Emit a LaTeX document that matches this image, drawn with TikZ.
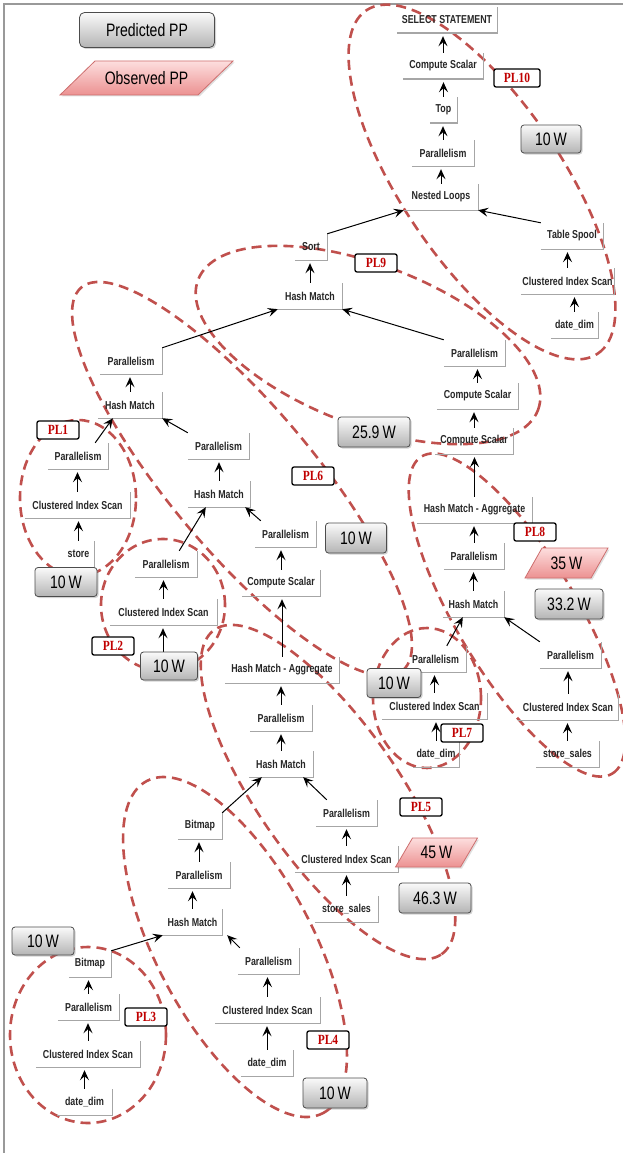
\documentclass[tikz,border=0pt]{standalone}
\usepackage{fontspec}
\setmainfont{Liberation Sans}
\newfontfamily\opfont[FakeStretch=0.77]{Liberation Sans}
\newfontfamily\bigfont[FakeStretch=0.78]{Liberation Sans}
\newfontfamily\plfont[FakeStretch=0.82]{Liberation Serif}
\usetikzlibrary{arrows.meta,shadows,calc}
\definecolor{plred}{RGB}{192,80,77}
\definecolor{pltext}{RGB}{192,0,0}
\definecolor{obsborder}{RGB}{205,110,110}
\definecolor{obstop}{RGB}{253,222,222}
\definecolor{obsbot}{RGB}{236,145,145}
\definecolor{gtop}{RGB}{250,250,250}
\definecolor{gbot}{RGB}{180,180,180}
\tikzset{
  op/.style={inner sep=0pt, minimum height=26pt, text=black!85,
    font=\opfont\bfseries\fontsize{11.5}{13}\selectfont},
  opl/.style={draw=gray!70, line width=1.4pt},
  arr/.style={-{Stealth[length=10pt,width=9pt,inset=4pt]}, line width=1pt, black, shorten >=3pt},
  darr/.style={-{Stealth[length=10pt,width=9pt,inset=4pt]}, line width=1pt, black},
  plloop/.style={draw=plred, line width=2.6pt, dash pattern=on 10pt off 6pt},
  pw/.style={rounded corners=3pt, draw=black!70, line width=0.8pt, top color=gtop, bottom color=gbot,
    font=\bigfont\fontsize{18}{20}\selectfont, inner sep=0pt,
    drop shadow={opacity=0.35,shadow xshift=1.5pt,shadow yshift=-1.5pt}},
  obsshape/.style={draw=obsborder, line width=0.8pt, top color=obstop, bottom color=obsbot,
    drop shadow={opacity=0.25,shadow xshift=1.5pt,shadow yshift=-1.5pt}},
  bigtxt/.style={inner sep=0pt, font=\bigfont\fontsize{18}{20}\selectfont},
  pl/.style={draw=black, line width=1.3pt, rounded corners=2pt, fill=white, minimum width=42pt,
    minimum height=18pt, inner sep=0pt, text=pltext, font=\plfont\bfseries\fontsize{14}{16}\selectfont}
}
% operator node: name, left, right, bottom, text
\newcommand\opn[5]{%
  \node[op, minimum width={#3pt-#2pt}] (#1) at ({(#2+#3)/2},{#4-13}) {#5};
  \draw[opl] (#1.south west) -- (#1.south east) -- (#1.north east);}
% vertical arrow child -> parent
\newcommand\vup[2]{\draw[arr] (#1.north) -- (#1.north |- #2.south);}
% observed box: name, cx, cy, halfwidth, halfheight, slant, text
\newcommand\obsbox[7]{%
  \coordinate (#1c) at (#2,#3);
  \shade[obsshape] ($(#1c)+(-#4+#6,-#5)$) -- ($(#1c)+(#4+#6,-#5)$) -- ($(#1c)+(#4-#6,#5)$) -- ($(#1c)+(-#4-#6,#5)$) -- cycle;
  \node[bigtxt] (#1) at (#1c) {#7};}
\begin{document}
\begin{tikzpicture}[x=1pt,y=-1pt]
\useasboundingbox (0,0) rectangle (623,1153);
\draw[gray!80, line width=1.5pt] (4,1153) -- (4,4) -- (623,4);

% ---- dashed loops ----
\draw[plloop, rotate around={-56:(482,182)}] (482,182) ellipse (207pt and 80pt);
\draw[plloop, rotate around={-21:(368,345)}] (368,345) ellipse (182pt and 80pt);
\draw[plloop, rotate around={-50:(242,479)}] (242,479) ellipse (250pt and 72pt);
\draw[plloop] (78,498) ellipse (58pt and 78pt);
\draw[plloop] (163,605) ellipse (62pt and 66pt);
\draw[plloop, rotate around={-59:(517,615)}] (517,615) ellipse (185pt and 60pt);
\draw[plloop] (427,698) ellipse (54pt and 70pt);
\draw[plloop, rotate around={-55:(328,792)}] (328,792) ellipse (198pt and 70pt);
\draw[plloop, rotate around={-62:(235,947)}] (235,947) ellipse (188pt and 78pt);
\draw[plloop] (88,1035) ellipse (78pt and 88pt);

% ---- legend ----
\node[pw, minimum width=135pt, minimum height=35pt, rounded corners=5pt] (pred) at (147,30) {Predicted PP};
\obsbox{obs}{146.5}{78}{69}{17}{17.5}{Observed PP}

% ---- operators ----
\opn{sel}{397}{497}{33}{SELECT STATEMENT}
\opn{csa}{403}{483}{79}{Compute Scalar}
\opn{topn}{430}{457}{123}{Top}
\opn{parj}{412}{474}{166}{Parallelism}
\opn{nl}{404}{478}{210}{Nested Loops}
\opn{ts}{541}{603}{249}{Table Spool}
\opn{cisj}{521}{614}{294}{Clustered Index Scan}
\opn{ddj}{551}{598}{338}{date\_dim}

\opn{sort}{295}{327}{260}{Sort}
\opn{hmi}{278}{342}{309}{Hash Match}
\opn{pari}{444}{505}{366}{Parallelism}
\opn{csia}{437}{518}{409}{Compute Scalar}
\opn{csib}{435}{513}{454}{Compute Scalar}

\opn{parfa}{100}{162}{374}{Parallelism}
\opn{hmfa}{98}{162}{418}{Hash Match}
\opn{parfb}{188}{249}{459}{Parallelism}
\opn{hmfb}{188}{250}{507}{Hash Match}
\opn{parfc}{255}{316}{547}{Parallelism}
\opn{csf}{242}{320}{596}{Compute Scalar}

\opn{para}{48}{108}{469}{Parallelism}
\opn{cisa}{25}{130}{518}{Clustered Index Scan}
\opn{store}{63}{94}{567}{store}

\opn{parb}{135}{197}{577}{Parallelism}
\opn{cisb}{110}{217}{625}{Clustered Index Scan}
\coordinate (tblb) at (163,652);

\opn{hmah}{417}{532}{523}{Hash Match - Aggregate}
\opn{parha}{444}{504}{569}{Parallelism}
\opn{hmh}{443}{504}{617}{Hash Match}
\opn{parhb}{540}{601}{668}{Parallelism}
\opn{cish}{518}{618}{720}{Clustered Index Scan}
\opn{ssh}{536}{599}{767}{store\_sales}

\opn{parg}{405}{466}{672}{Parallelism}
\opn{cisg}{382}{487}{719}{Clustered Index Scan}
\opn{ddg}{413}{459}{767}{date\_dim}

\opn{hmae}{225}{339}{683}{Hash Match - Aggregate}
\opn{parea}{250}{312}{731}{Parallelism}
\opn{hme}{249}{313}{777}{Hash Match}
\opn{pareb}{316}{377}{826}{Parallelism}
\opn{cise}{295}{398}{872}{Clustered Index Scan}
\opn{sse}{315}{378}{922}{store\_sales}

\opn{bmd}{178}{222}{839}{Bitmap}
\opn{parda}{168}{230}{888}{Parallelism}
\opn{hmd}{163}{222}{935}{Hash Match}
\opn{pardb}{238}{299}{974}{Parallelism}
\opn{cisd}{215}{320}{1023}{Clustered Index Scan}
\opn{ddd}{241}{293}{1076}{date\_dim}

\opn{bmc}{69}{111}{977}{Bitmap}
\opn{parc}{58}{119}{1020}{Parallelism}
\opn{cisc}{36}{140}{1067}{Clustered Index Scan}
\opn{ddc}{57}{112}{1115}{date\_dim}

% ---- arrows ----
\vup{csa}{sel} \vup{topn}{csa} \vup{parj}{topn} \vup{nl}{parj}
\draw[darr] (sort.north east) -- (nl.south west);
\draw[darr] (ts.north west) -- (nl.south east);
\vup{cisj}{ts} \vup{ddj}{cisj}

\vup{hmi}{sort}
\draw[darr] (parfa.north east) -- (hmi.south west);
\draw[darr] (pari.north west) -- (hmi.south east);
\vup{csia}{pari} \vup{csib}{csia} \vup{hmah}{csib}

\vup{hmfa}{parfa}
\draw[darr] ($(para.north east)+(-13,0)$) -- ($(hmfa.south west)+(15,0)$);
\draw[darr] (parfb.north west) -- (hmfa.south east);
\vup{hmfb}{parfb}
\draw[darr] ($(parb.north east)+(-18,0)$) -- ($(hmfb.south west)+(18,0)$);
\draw[darr] ($(parfc.north west)+(6,0)$) -- ($(hmfb.south east)+(-5,0)$);
\vup{csf}{parfc} \vup{hmae}{csf}

\vup{cisa}{para} \vup{store}{cisa}
\vup{cisb}{parb}
\draw[arr] (tblb) -- (tblb |- cisb.south);

\vup{parha}{hmah} \vup{hmh}{parha}
\draw[darr] ($(parg.north west)+(42,0)$) -- ($(hmh.south west)+(20,0)$);
\draw[darr] (parhb.north west) -- (hmh.south east);
\vup{cish}{parhb} \vup{ssh}{cish}
\vup{cisg}{parg} \vup{ddg}{cisg}

\vup{parea}{hmae} \vup{hme}{parea}
\draw[darr] (bmd.north east) -- ($(hme.south west)+(13,0)$);
\draw[darr] ($(pareb.north west)+(11,0)$) -- ($(hme.south east)+(-10,0)$);
\vup{cise}{pareb} \vup{sse}{cise}

\vup{parda}{bmd} \vup{hmd}{parda}
\draw[darr] (bmc.north east) -- (hmd.south west);
\draw[darr] ($(pardb.north west)+(2,0)$) -- ($(hmd.south east)+(5,0)$);
\vup{cisd}{pardb} \vup{ddd}{cisd}
\vup{parc}{bmc} \vup{cisc}{parc} \vup{ddc}{cisc}

% ---- power boxes ----
\node[pw, minimum width=60pt, minimum height=28pt] (pwj) at (551,139) {10\,W};
\node[pw, minimum width=72pt, minimum height=30pt] (pwi) at (374,432) {25.9\,W};
\node[pw, minimum width=61pt, minimum height=30pt] (pwf) at (356,538) {10\,W};
\obsbox{obh}{566.5}{563}{33}{15}{8.5}{35\,W}
\node[pw, minimum width=68pt, minimum height=30pt] (pwh) at (569,604) {33.2\,W};
\node[pw, minimum width=62pt, minimum height=29pt] (pwa) at (66,582) {10\,W};
\node[pw, minimum width=57pt, minimum height=28pt] (pwb) at (169,666) {10\,W};
\node[pw, minimum width=54pt, minimum height=29pt] (pwg) at (394,683) {10\,W};
\obsbox{obe}{436.5}{852.5}{32.5}{14.5}{8.5}{45\,W}
\node[pw, minimum width=72pt, minimum height=30pt] (pwe) at (435,898) {46.3\,W};
\node[pw, minimum width=62pt, minimum height=28pt] (pwc) at (43,941) {10\,W};
\node[pw, minimum width=64pt, minimum height=30pt] (pwd) at (335,1093) {10\,W};

% ---- PL labels ----
\node[pl, minimum width=46pt] (plj) at (517,78) {PL10};
\node[pl] (pli) at (376,263) {PL9};
\node[pl] (pla) at (58,430) {PL1};
\node[pl] (plf) at (313,476) {PL6};
\node[pl] (plb) at (113,646) {PL2};
\node[pl] (plh) at (535,532) {PL8};
\node[pl] (plg) at (462,733) {PL7};
\node[pl] (ple) at (421,807) {PL5};
\node[pl] (plc) at (146,1017) {PL3};
\node[pl] (pld) at (328,1040) {PL4};
\end{tikzpicture}
\end{document}
